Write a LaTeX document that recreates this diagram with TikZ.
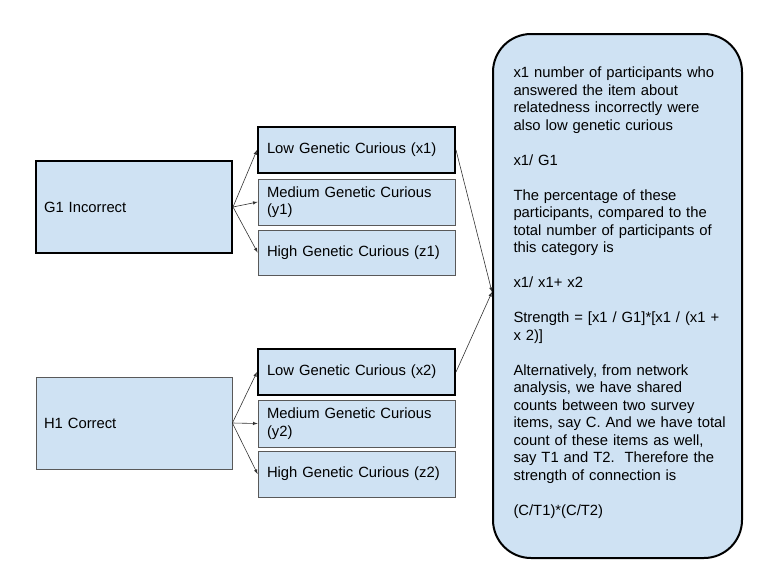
\documentclass[tikz,border=0pt]{standalone}
\usepackage{fontspec}
\setmainfont{Liberation Sans}
\definecolor{boxblue}{HTML}{CFE2F3}
\definecolor{edgegray}{HTML}{595959}
\definecolor{arrowgray}{HTML}{333333}

\tikzset{
  catbox/.style={rectangle, fill=boxblue, draw=edgegray, line width=0.8pt, align=left,
    font=\fontsize{14.8}{17.5}\selectfont},
  bold/.style={draw=black, line width=2pt},
  groupbox/.style={catbox, minimum width=196pt, minimum height=92pt, text width=180pt},
  levelbox/.style={catbox, minimum width=197pt, minimum height=46pt, text width=179pt},
  link/.style={arrowgray, line width=0.6pt, -latex}
}

\begin{document}
\begin{tikzpicture}[x=1pt,y=-1pt]
\useasboundingbox (0,0) rectangle (768,576);
\node [groupbox,bold] (g1) at (134,207) {G1 Incorrect};
\node [groupbox] (h1) at (134,423) {H1 Correct};
\node [levelbox,bold] (lowx1) at (356.5,150) {Low Genetic Curious (x1)};
\node [levelbox] (medy1) at (356.5,202) {Medium Genetic Curious\\(y1)};
\node [levelbox,minimum height=45pt] (highz1) at (356.5,252.5) {High Genetic Curious (z1)};
\node [levelbox,bold] (lowx2) at (356.5,372) {Low Genetic Curious (x2)};
\node [levelbox,minimum height=47pt] (medy2) at (356.5,423.5) {Medium Genetic Curious\\(y2)};
\node [levelbox] (highz2) at (356.5,474) {High Genetic Curious (z2)};
\node [catbox,bold,rounded corners=38pt,minimum width=249pt,minimum height=524pt,text width=208pt] (note) at (617.5,296)
  {x1 number of participants who\\answered the item about\\relatedness incorrectly were\\also low genetic curious\\[17.5pt]
   x1/ G1\\[17.5pt]
   The percentage of these\\participants, compared to the\\total number of participants of\\this category is\\[17.5pt]
   x1/ x1+ x2\\[17.5pt]
   Strength = [x1 / G1]*[x1 / (x1 +\\x 2)]\\[17.5pt]
   Alternatively, from network\\analysis, we have shared\\counts between two survey\\\mbox{items, say C. And we have total}\\count of these items as well,\\say T1 and T2.\ \ Therefore the\\strength of connection is\\[17.5pt]
   (C/T1)*(C/T2)\\[-7.5pt]\mbox{}};
\draw [link] (g1.east) -- (lowx1.west);
\draw [link] (g1.east) -- (medy1.west);
\draw [link] (g1.east) -- (highz1.west);
\draw [link] (h1.east) -- (lowx2.west);
\draw [link] (h1.east) -- (medy2.west);
\draw [link] (h1.east) -- (highz2.west);
\draw [link] (lowx1.east) -- ([yshift=4pt]note.west);
\draw [link] (lowx2.east) -- ([yshift=4pt]note.west);
\end{tikzpicture}
\end{document}
